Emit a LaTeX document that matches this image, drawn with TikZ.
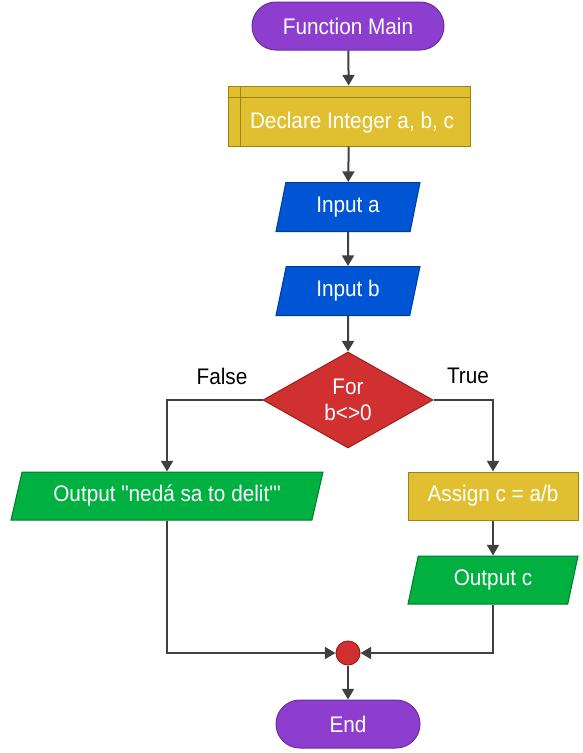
\documentclass[tikz,border=0pt]{standalone}
\usepackage{fontspec}
\setmainfont{Liberation Sans}[FakeStretch=0.92,Ligatures=TeXOff]
\usetikzlibrary{shapes.geometric,arrows.meta}
\definecolor{cpurple}{HTML}{8E3ECF}
\definecolor{cpurpled}{HTML}{6A2C9E}
\definecolor{cyellow}{HTML}{E0C030}
\definecolor{cyellowd}{HTML}{9C8414}
\definecolor{cblue}{HTML}{0055D4}
\definecolor{cblued}{HTML}{003C96}
\definecolor{cred}{HTML}{D03030}
\definecolor{credd}{HTML}{982020}
\definecolor{cgreen}{HTML}{00B040}
\definecolor{cgreend}{HTML}{007A2C}
\definecolor{cline}{HTML}{404040}
\begin{document}
\begin{tikzpicture}[x=0.75pt,y=-0.75pt,
  base/.style={line width=0.75pt, text=white, font=\fontsize{16.9}{19}\selectfont, inner sep=0pt},
  term/.style={base, rectangle, rounded corners=18pt, fill=cpurple, draw=cpurpled, minimum height=36pt},
  proc/.style={base, rectangle, fill=cyellow, draw=cyellowd, minimum height=36pt},
  io/.style={base, trapezium, trapezium stretches body, minimum height=36pt},
  dec/.style={base, diamond, fill=cred, draw=credd, align=center},
  txt/.style={text=white, font=\fontsize{16.9}{19}\selectfont, inner sep=0pt},
  lbl/.style={text=black, font=\fontsize{16.9}{19}\selectfont, inner sep=0pt},
  conn/.style={draw=cline, line width=1.5pt, -{Triangle[length=8pt,width=9pt]}},
  junc/.style={circle, fill=cred, draw=credd, line width=0.75pt, minimum size=18pt, inner sep=0pt}
]
\useasboundingbox (0,0) rectangle (582,753);

\node[term, minimum width=144pt] (main) at (348,26) {Function Main};

\node[proc, minimum width=181.5pt, minimum height=45pt] (decl) at (349,116) {};
\draw[draw=cyellowd, line width=0.75pt] ([xshift=10pt]decl.north west) -- ([xshift=10pt]decl.south west);
\draw[draw=cyellowd, line width=0.75pt] ([yshift=-9pt]decl.north west) -- ([yshift=-9pt]decl.north east);
\node[txt] (decltxt) at (352,123) {Declare Integer a, b, c};

\node[io, fill=cblue, draw=cblued, minimum width=108pt, minimum height=36.75pt,
  trapezium left angle=64, trapezium right angle=116] (ina) at (348,207) {Input a};
\node[io, fill=cblue, draw=cblued, minimum width=108pt, minimum height=36.75pt,
  trapezium left angle=64, trapezium right angle=116] (inb) at (348,291) {Input b};

\node[dec, minimum width=127.5pt, minimum height=72pt] (dia) at (348,400) {For\\b<>0};
\node[lbl] (lfalse) at (222,376) {False};
\node[lbl] (ltrue) at (468,376) {True};

\node[io, fill=cgreen, draw=cgreend, minimum width=234pt,
  trapezium left angle=62.5, trapezium right angle=117.5] (outn) at (167,496) {Output "nedá sa to delit'"};
\node[proc, minimum width=127.5pt] (assign) at (493,496) {Assign c = a/b};
\node[io, fill=cgreen, draw=cgreend, minimum width=127.5pt,
  trapezium left angle=63.4, trapezium right angle=116.6] (outc) at (493,580) {Output c};

\node[junc] (j) at (348,653) {};
\node[term, minimum width=108pt] (end) at (348,724) {End};

\draw[conn] (main) -- (decl);
\draw[conn] (decl) -- (ina);
\draw[conn] (ina) -- (inb);
\draw[conn] (inb) -- (dia);
\draw[conn] (dia.west) -| (outn.north);
\draw[conn] (dia.east) -| (assign.north);
\draw[conn] (assign) -- (outc);
\draw[conn] (outn.south) |- (j.west);
\draw[conn] (outc.south) |- (j.east);
\draw[conn] (j) -- (end);
\end{tikzpicture}
\end{document}
